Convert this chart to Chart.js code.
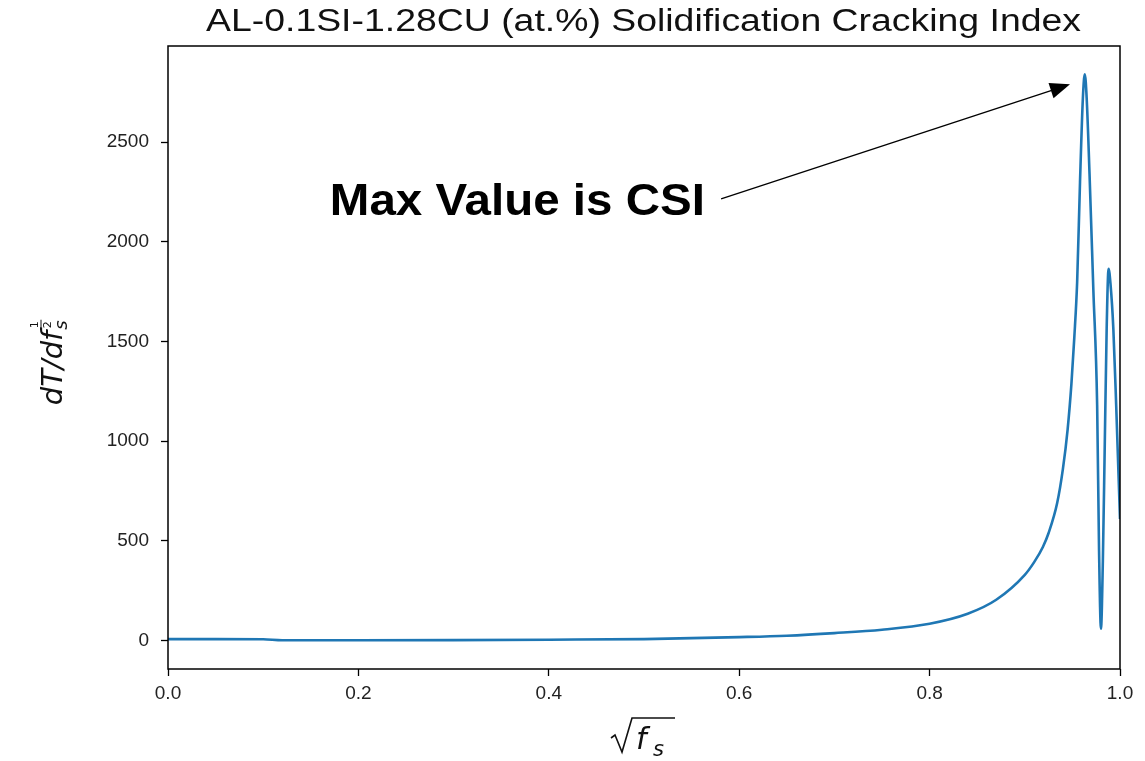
<!DOCTYPE html>
<html lang="en">
<head>
    <meta charset="UTF-8">
    <title>Solidification Cracking Index</title>
    <script src="https://cdn.jsdelivr.net/npm/chart.js"></script>
    <style>
        body {
            margin: 0;
            padding: 0;
            background: #fff;
        }
        .wrap {
            width: 1145px;
            height: 761px;
            position: relative;
        }
    </style>
</head>
<body>
    <div class="wrap">
        <canvas id="csiChart" width="1145" height="761"></canvas>
    </div>

    <script>
        // values
        const sqrtFs = [0, 0.05, 0.10, 0.12, 0.2, 0.3, 0.4, 0.5, 0.6, 0.65, 0.7, 0.75, 0.8, 0.84, 0.87, 0.9, 0.91, 0.919, 0.925, 0.934, 0.94, 0.945, 0.949, 0.952, 0.955, 0.958, 0.961, 0.963, 0.965, 0.968, 0.972, 0.976, 0.978, 0.980, 0.982, 0.984, 0.986, 0.988, 0.990, 0.993, 0.996, 1.0];
        const dTdFs  = [8, 8, 7, 2, 2, 3, 5, 8, 18, 25, 38, 55, 85, 135, 205, 330, 395, 470, 540, 690, 860, 1060, 1290, 1520, 1800, 2300, 2720, 2840, 2720, 2340, 1760, 1180, 450, 60, 400, 985, 1565, 1865, 1790, 1565, 1180, 610];
        const xTicks = [0, 0.2, 0.4, 0.6, 0.8, 1.0];
        const yTicks = [0, 500, 1000, 1500, 2000, 2500];

        const titleText = 'AL-0.1SI-1.28CU (at.%) Solidification Cracking Index';
        const noteText = 'Max Value is CSI';

        const points = sqrtFs.map((x, i) => ({ x: x, y: dTdFs[i] }));

        // draws text squeezed/stretched to a given width
        function fitText(ctx, text, x, y, width) {
            const w = ctx.measureText(text).width;
            ctx.save();
            ctx.translate(x, y);
            ctx.scale(width / w, 1);
            ctx.fillText(text, 0, 0);
            ctx.restore();
        }

        // frame, title, axis labels and the arrow note
        const extras = {
            id: 'extras',
            afterDraw(chart) {
                const ctx = chart.ctx;
                const a = chart.chartArea;
                const xs = chart.scales.x;
                const ys = chart.scales.y;
                ctx.save();

                ctx.strokeStyle = '#000';
                ctx.lineWidth = 1.5;
                ctx.strokeRect(a.left, a.top, a.right - a.left, a.bottom - a.top);

                // title
                ctx.fillStyle = '#111';
                ctx.font = '31px "Liberation Sans", Arial, sans-serif';
                ctx.textAlign = 'left';
                ctx.textBaseline = 'alphabetic';
                fitText(ctx, titleText, 206, 31, 875);

                // note
                ctx.font = 'bold 45px "Liberation Sans", Arial, sans-serif';
                ctx.fillStyle = '#000';
                fitText(ctx, noteText, xs.getPixelForValue(0.17), ys.getPixelForValue(2135), 375);

                // arrow to the peak
                const x0 = xs.getPixelForValue(0.581), y0 = ys.getPixelForValue(2215);
                const x1 = xs.getPixelForValue(0.9475), y1 = ys.getPixelForValue(2790);
                const ang = Math.atan2(y1 - y0, x1 - x0);
                const c = Math.cos(ang), s = Math.sin(ang);
                ctx.strokeStyle = '#000';
                ctx.lineWidth = 1.3;
                ctx.beginPath();
                ctx.moveTo(x0, y0);
                ctx.lineTo(x1 - 16 * c, y1 - 16 * s);
                ctx.stroke();
                ctx.beginPath();
                ctx.moveTo(x1, y1);
                ctx.lineTo(x1 - 20 * c + 8 * s, y1 - 20 * s - 8 * c);
                ctx.lineTo(x1 - 20 * c - 8 * s, y1 - 20 * s + 8 * c);
                ctx.closePath();
                ctx.fill();

                // x label: sqrt(f_s)
                const cx = (a.left + a.right) / 2;
                ctx.lineWidth = 1.6;
                ctx.strokeStyle = '#111';
                ctx.beginPath();
                ctx.moveTo(cx - 33, 738);
                ctx.lineTo(cx - 29, 735);
                ctx.lineTo(cx - 22, 752);
                ctx.lineTo(cx - 12, 718);
                ctx.lineTo(cx + 31, 718);
                ctx.stroke();
                ctx.fillStyle = '#111';
                ctx.font = 'italic 30px "DejaVu Sans", sans-serif';
                ctx.fillText('f', cx - 8, 749);
                ctx.font = 'italic 21px "DejaVu Sans", sans-serif';
                ctx.fillText('s', cx + 9, 756);

                // y label: dT/df_s^(1/2), rotated
                ctx.translate(62, 360);
                ctx.rotate(-Math.PI / 2);
                ctx.font = 'italic 29px "DejaVu Sans", sans-serif';
                const w1 = ctx.measureText('dT/df').width;
                const left = -(w1 + 16) / 2;
                ctx.fillText('dT/df', left, 0);
                ctx.font = 'italic 18px "DejaVu Sans", sans-serif';
                ctx.fillText('s', left + w1 + 1, 5);
                ctx.font = '11px "DejaVu Sans", sans-serif';
                ctx.textAlign = 'center';
                ctx.fillText('1', left + w1 + 6, -24);
                ctx.fillText('2', left + w1 + 6, -11);
                ctx.lineWidth = 1;
                ctx.beginPath();
                ctx.moveTo(left + w1 + 1, -21);
                ctx.lineTo(left + w1 + 11, -21);
                ctx.stroke();

                ctx.restore();
            }
        };

        const tickFont = { family: '"Liberation Sans", Arial, sans-serif', size: 19 };

        new Chart(document.getElementById('csiChart'), {
            type: 'line',
            data: {
                datasets: [{
                    data: points,
                    borderColor: '#1f77b4',
                    borderWidth: 2.6,
                    pointRadius: 0,
                    fill: false,
                    cubicInterpolationMode: 'monotone'
                }]
            },
            options: {
                responsive: false,
                animation: false,
                layout: { padding: { left: 0, top: 46, right: 25, bottom: 0 } },
                plugins: {
                    legend: { display: false },
                    tooltip: { enabled: false }
                },
                scales: {
                    x: {
                        type: 'linear',
                        min: 0,
                        max: 1,
                        afterBuildTicks: s => { s.ticks = xTicks.map(v => ({ value: v })); },
                        afterFit: s => { s.height = 92; },
                        ticks: {
                            font: tickFont,
                            color: '#222',
                            padding: 6,
                            maxRotation: 0,
                            callback: v => v.toFixed(1)
                        },
                        grid: { drawOnChartArea: false, tickLength: 7, color: '#000', tickWidth: 1.3 },
                        border: { display: false }
                    },
                    y: {
                        type: 'linear',
                        min: -142,
                        max: 2982,
                        afterBuildTicks: s => { s.ticks = yTicks.map(v => ({ value: v })); },
                        afterFit: s => { s.width = 168; },
                        ticks: {
                            font: tickFont,
                            color: '#222',
                            padding: 12,
                            callback: v => String(v)
                        },
                        grid: { drawOnChartArea: false, tickLength: 7, color: '#000', tickWidth: 1.3 },
                        border: { display: false }
                    }
                }
            },
            plugins: [extras]
        });
    </script>
</body>
</html>
